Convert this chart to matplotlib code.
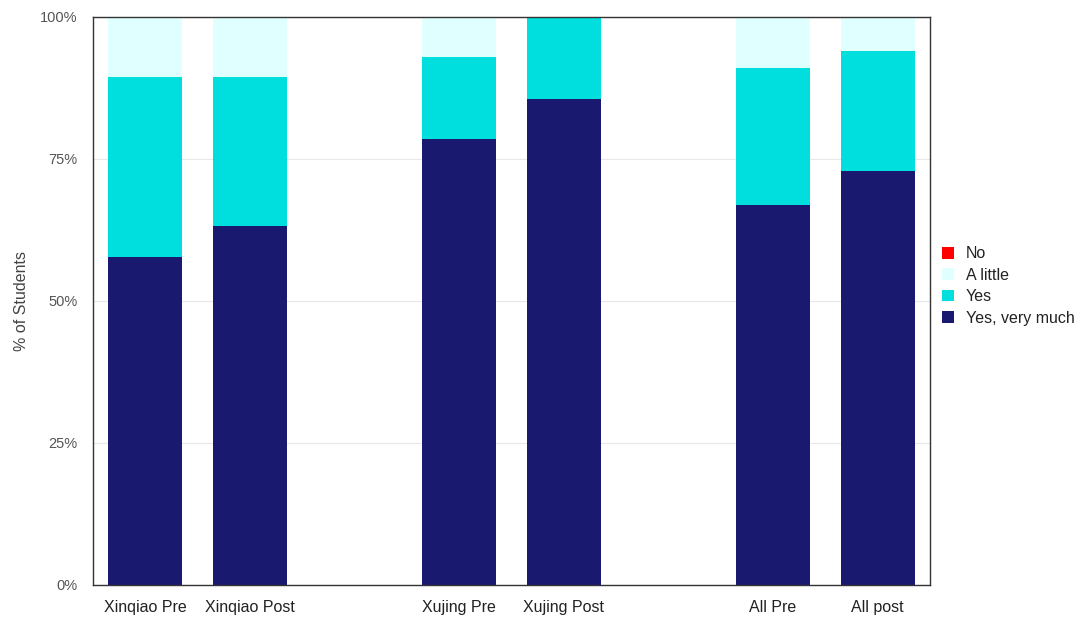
import matplotlib
matplotlib.use("Agg")
import matplotlib.pyplot as plt
from matplotlib.patches import Patch

categories = ["Xinqiao Pre", "Xinqiao Post", "Xujing Pre", "Xujing Post", "All Pre", "All post"]
positions = [0, 1, 3, 4, 6, 7]
series_names = ["No", "A little", "Yes", "Yes, very much"]
very_much = [57.7, 63.2, 78.5, 85.6, 66.9, 72.8]
yes = [31.7, 26.2, 14.5, 14.4, 24.2, 21.3]
a_little = [10.6, 10.6, 7.0, 0.0, 8.9, 5.9]
no = [0, 0, 0, 0, 0, 0]
colors = {"No": "#FF0000", "A little": "#E0FFFF", "Yes": "#00DEDE", "Yes, very much": "#191970"}
yticks = [0, 25, 50, 75, 100]
ytick_labels = ["0%", "25%", "50%", "75%", "100%"]

plt.rcParams['font.family'] = ['Liberation Sans', 'DejaVu Sans']
fig = plt.figure(figsize=(10.89, 6.17), dpi=100)
ax = fig.add_axes([93/1089, 1-585/617, (930-93)/1089, (585-17)/617])

w = 0.71
bottom = [0]*6
for name, vals in [("Yes, very much", very_much), ("Yes", yes), ("A little", a_little), ("No", no)]:
    ax.bar(positions, vals, width=w, bottom=bottom, color=colors[name], linewidth=0, zorder=2)
    bottom = [b + v for b, v in zip(bottom, vals)]

ax.set_xlim(-0.5, 7.5)
ax.set_ylim(0, 100)
ax.set_yticks(yticks)
ax.set_yticklabels(ytick_labels, color="#555555", fontsize=10.5)
ax.set_xticks(positions)
ax.set_xticklabels(categories, color="#222222", fontsize=11.5)
ax.tick_params(axis='y', length=0, pad=11)
ax.tick_params(axis='x', length=0, pad=11)
ax.grid(axis='y', color="#e8e8e8", linewidth=0.8, zorder=0)
ax.set_axisbelow(True)
for s in ax.spines.values():
    s.set_color("#333333")
    s.set_linewidth(1.0)
ax.set_ylabel("% of Students", color="#444444", fontsize=11.5, labelpad=8)

handles = [Patch(facecolor=colors[n], edgecolor='none') for n in series_names]
fig.legend(handles, series_names, loc='center left', bbox_to_anchor=(928/1089, 1-286/617),
           frameon=False, fontsize=11.5, handlelength=0.75, handleheight=0.75,
           handletextpad=0.7, labelspacing=0.4, labelcolor="#222222")

fig.savefig("out.png", dpi=100)
